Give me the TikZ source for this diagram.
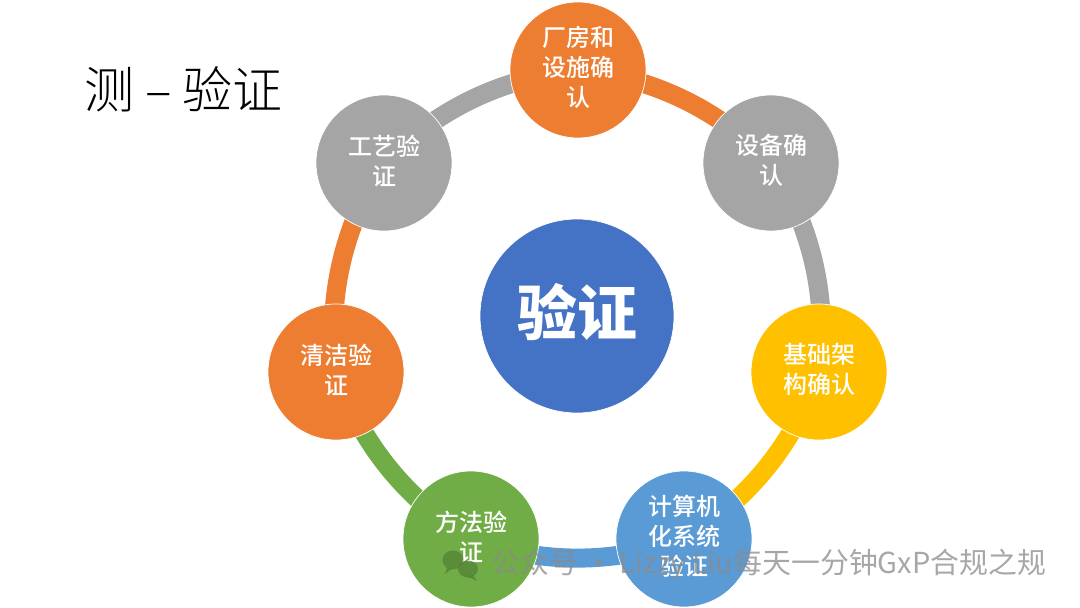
\documentclass[tikz,border=0pt]{standalone}
\usepackage{fontspec}
\usetikzlibrary{backgrounds}
\setmainfont{Noto Sans CJK SC}
\newfontfamily\lightcjk{Noto Sans CJK SC Light}
\newfontfamily\midcjk{Noto Sans CJK SC Medium}
\definecolor{cOrange}{HTML}{ED7D31}
\definecolor{cGray}{HTML}{A5A5A5}
\definecolor{cGold}{HTML}{FFC000}
\definecolor{cSky}{HTML}{5B9BD5}
\definecolor{cGreen}{HTML}{70AD47}
\definecolor{cBlue}{HTML}{4472C4}
\definecolor{cMark}{HTML}{8A8A8A}
\tikzset{
  petal/.style={circle,draw=white,line width=.7pt,minimum size=136pt,inner sep=0pt},
  petaltext/.style={inner sep=0pt,text=white,align=center,text width=84pt,font=\fontsize{24}{30}\midcjk,yshift=2.5pt},
  hub/.style={circle,draw=white,line width=.7pt,fill=cBlue,minimum size=194pt,inner sep=0pt},
  hubtext/.style={inner sep=0pt,text=white,font=\fontsize{60}{66}\selectfont\bfseries,yshift=4pt},
  ring/.style={line width=19pt,bend left=20,looseness=0.896},
  titletext/.style={font=\fontsize{50}{54}\lightcjk,text=black,inner sep=0pt},
  marktext/.style={font=\fontsize{28.9}{30}\selectfont,text=cMark,opacity=.75,inner sep=0pt,anchor=west},
  markicon/.style={fill=cGreen!75!black,opacity=.75}
}
\begin{document}
\begin{tikzpicture}[x=1pt,y=-1pt]
\useasboundingbox (0,0) rectangle (1080,608);
\node[titletext,anchor=west] (title) at (84,89) {测 – 验证};
\node[hub,label={[hubtext]center:验证}] (hub) at (577,316) {};
\node[petal,fill=cOrange,label={[petaltext]center:{厂房和\\设施确\\认}}] (n1) at (578,70) {};
\node[petal,fill=cGray,label={[petaltext]center:{设备确\\认}}] (n2) at (771,163) {};
\node[petal,fill=cGold,label={[petaltext]center:{基础架\\构确认}}] (n3) at (819,372) {};
\node[petal,fill=cSky,label={[petaltext]center:{计算机\\化系统\\验证}}] (n4) at (684,539) {};
\node[petal,fill=cGreen,label={[petaltext]center:{方法验\\证}}] (n5) at (471,539) {};
\node[petal,fill=cOrange,label={[petaltext]center:{清洁验\\证}}] (n6) at (336,372) {};
\node[petal,fill=cGray,label={[petaltext]center:{工艺验\\证}}] (n7) at (384,163) {};
\begin{scope}[on background layer]
\draw[ring,cOrange] (n1.center) to (n2.center);
\draw[ring,cGray] (n2.center) to (n3.center);
\draw[ring,cGold] (n3.center) to (n4.center);
\draw[ring,cSky] (n4.center) to (n5.center);
\draw[ring,cGreen] (n5.center) to (n6.center);
\draw[ring,cOrange] (n6.center) to (n7.center);
\draw[ring,cGray] (n7.center) to (n1.center);
\end{scope}
\fill[markicon] (453,560) ellipse (10.5pt and 9.5pt);
\fill[markicon] (447,567) -- (445,574) -- (453,568) -- cycle;
\fill[markicon] (468,569) ellipse (10pt and 8.5pt);
\fill[markicon] (473,575) -- (477,581) -- (466,576) -- cycle;
\node[marktext] (mark) at (491,565) {公众号 · Lizzy Liu每天一分钟GxP合规之规};
\end{tikzpicture}
\end{document}
